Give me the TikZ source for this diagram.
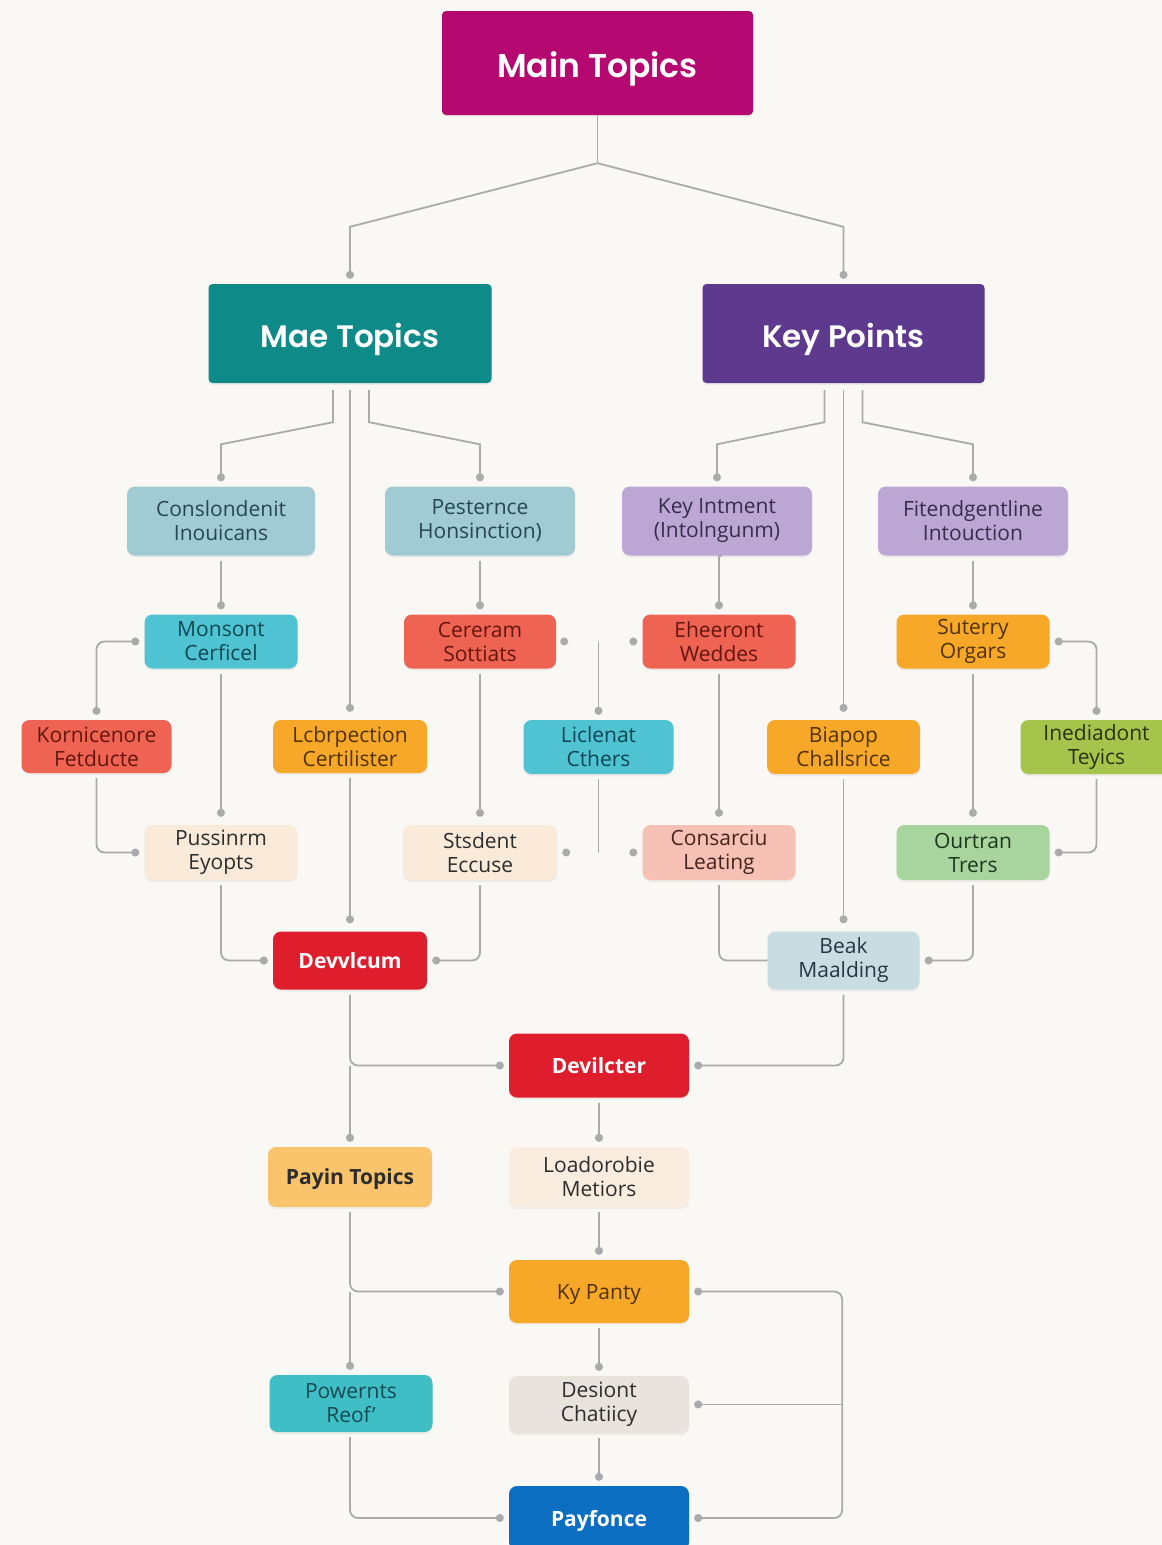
\documentclass[tikz,border=0pt]{standalone}
\usepackage{fontspec}
\setmainfont{Open Sans}
\newfontfamily\headfont{Poppins}[BoldFont={* SemiBold}]
\usetikzlibrary{arrows.meta,calc,shadows}
\definecolor{bgcol}{RGB}{250,248,244}
\definecolor{lineGray}{RGB}{170,170,170}
\definecolor{cMain}{RGB}{181,8,112}
\definecolor{cTeal}{RGB}{14,138,137}
\definecolor{cPurple}{RGB}{93,58,142}
\definecolor{cSteel}{RGB}{160,203,211}
\definecolor{tSteel}{RGB}{40,70,80}
\definecolor{cLav}{RGB}{187,166,212}
\definecolor{tLav}{RGB}{55,45,75}
\definecolor{cCyan}{RGB}{80,195,211}
\definecolor{tCyan}{RGB}{15,70,82}
\definecolor{cCoral}{RGB}{238,99,82}
\definecolor{tCoral}{RGB}{100,22,14}
\definecolor{cAmber}{RGB}{247,168,40}
\definecolor{tAmber}{RGB}{80,50,5}
\definecolor{cOlive}{RGB}{166,196,76}
\definecolor{tOlive}{RGB}{40,52,14}
\definecolor{cPeach}{RGB}{250,234,218}
\definecolor{tDark}{RGB}{45,45,45}
\definecolor{cSalmon}{RGB}{246,193,180}
\definecolor{tSalmon}{RGB}{70,35,30}
\definecolor{cMint}{RGB}{168,212,158}
\definecolor{tMint}{RGB}{28,55,28}
\definecolor{cBeak}{RGB}{200,220,226}
\definecolor{tBeak}{RGB}{38,55,65}
\definecolor{cRed}{RGB}{222,30,45}
\definecolor{cGold}{RGB}{249,196,107}
\definecolor{cCream}{RGB}{250,236,222}
\definecolor{cAqua}{RGB}{64,190,198}
\definecolor{tAqua}{RGB}{22,75,82}
\definecolor{cStone}{RGB}{232,227,220}
\definecolor{cBlue}{RGB}{11,110,192}
\begin{document}
\begin{tikzpicture}[x=1pt,y=-1pt,
  soft/.style={drop shadow={opacity=0.10,shadow xshift=0pt,shadow yshift=-2pt}},
  hdr/.style={soft,rounded corners=4pt,inner sep=0pt,align=center,text=white,
    text height=27pt,text depth=0pt,
    font=\headfont\bfseries\fontsize{31}{36}\selectfont},
  box/.style={soft,rounded corners=8pt,inner sep=0pt,align=center,
    font=\fontsize{21}{24}\selectfont},
  boldbox/.style={soft,rounded corners=8pt,inner sep=0pt,align=center,text depth=0pt,
    font=\bfseries\fontsize{21}{24}\selectfont},
  conn/.style={draw=lineGray,line width=1.8pt},
  dotend/.style={-{Circle[length=8pt,width=8pt]},shorten >=5pt},
  dotboth/.style={{Circle[length=8pt,width=8pt]}-{Circle[length=8pt,width=8pt]},shorten >=5pt,shorten <=5pt},
  gap/.style={shorten <=5pt},
  dotmark/.style={circle,fill=lineGray,inner sep=0pt,minimum size=8pt}
]
\useasboundingbox (0,0) rectangle (1162,1545);
\fill[bgcol] (0,0) rectangle (1162,1545);

% headers
\node[hdr,fill=cMain,minimum width=311pt,minimum height=104pt,
  font=\headfont\bfseries\fontsize{33}{38}\selectfont,text height=28pt] (main) at (597.5,63) {Main Topics};
\node[hdr,fill=cTeal,minimum width=283pt,minimum height=99pt] (mae) at (350,333.5) {Mae Topics};
\node[hdr,fill=cPurple,minimum width=282pt,minimum height=99pt] (key) at (843.5,333.5) {Key Points};

% row 1
\node[box,fill=cSteel,text=tSteel,minimum width=188pt,minimum height=69pt] (cons) at (221,521) {Conslondenit\\Inouicans};
\node[box,fill=cSteel,text=tSteel,minimum width=190pt,minimum height=69pt] (pest) at (480,521) {Pesternce\\Honsinction)};
\node[box,fill=cLav,text=tLav,minimum width=190pt,minimum height=69pt] (keyi) at (717,521) {Key Intment\\(Intolngunm)};
\node[box,fill=cLav,text=tLav,minimum width=190pt,minimum height=69pt] (fit) at (973,521) {Fitendgentline\\Intouction};

% row 2
\node[box,fill=cCyan,text=tCyan,minimum width=153pt,minimum height=54pt] (mons) at (221,641.5) {Monsont\\Cerficel};
\node[box,fill=cCoral,text=tCoral,minimum width=152pt,minimum height=54pt] (cere) at (480,641.5) {Cereram\\Sottiats};
\node[box,fill=cCoral,text=tCoral,minimum width=153pt,minimum height=54pt] (ehee) at (719,641.5) {Eheeront\\Weddes};
\node[box,fill=cAmber,text=tAmber,minimum width=153pt,minimum height=54pt] (sute) at (973,641.5) {Suterry\\Orgars};

% row 3
\node[box,fill=cCoral,text=tCoral,minimum width=150pt,minimum height=53pt] (korn) at (96.5,746.5) {Kornicenore\\Fetducte};
\node[box,fill=cAmber,text=tAmber,minimum width=154pt,minimum height=53pt] (lcbr) at (350,746.5) {Lcbrpection\\Certilister};
\node[box,fill=cCyan,text=tCyan,minimum width=150pt,minimum height=54pt] (licl) at (598.5,747) {Liclenat\\Cthers};
\node[box,fill=cAmber,text=tAmber,minimum width=153pt,minimum height=54pt] (biap) at (843.5,747) {Biapop\\Challsrice};
\node[box,fill=cOlive,text=tOlive,minimum width=152pt,minimum height=54pt] (ined) at (1096.5,747) {Inediadont\\Teyics};

% row 4
\node[box,fill=cPeach,text=tDark,minimum width=153pt,minimum height=55pt] (puss) at (221,852.5) {Pussinrm\\Eyopts};
\node[box,fill=cPeach,text=tDark,minimum width=154pt,minimum height=55pt] (stsd) at (480,852.5) {Stsdent\\Eccuse};
\node[box,fill=cSalmon,text=tSalmon,minimum width=153pt,minimum height=55pt] (consa) at (719,852.5) {Consarciu\\Leating};
\node[box,fill=cMint,text=tMint,minimum width=153pt,minimum height=55pt] (ourt) at (973,852.5) {Ourtran\\Trers};

% row 5
\node[boldbox,fill=cRed,text=white,minimum width=154pt,minimum height=58pt] (devv) at (350,960.5) {Devvlcum};
\node[box,fill=cBeak,text=tBeak,minimum width=152pt,minimum height=58pt] (beak) at (843.5,960.5) {Beak\\Maalding};

% lower column
\node[boldbox,fill=cRed,text=white,minimum width=180pt,minimum height=64pt] (devi) at (599,1065.5) {Devilcter};
\node[boldbox,fill=cGold,text=tDark,minimum width=164pt,minimum height=60pt] (payin) at (350,1177) {Payin Topics};
\node[box,fill=cCream,text=tDark,minimum width=180pt,minimum height=60pt] (load) at (599,1177) {Loadorobie\\Metiors};
\node[box,fill=cAmber,text=tAmber,minimum width=180pt,minimum height=63pt,text depth=0pt] (kyp) at (599,1291.5) {Ky Panty};
\node[box,fill=cAqua,text=tAqua,minimum width=163pt,minimum height=57pt] (powe) at (351,1403.5) {Powernts\\Reof'};
\node[box,fill=cStone,text=tDark,minimum width=180pt,minimum height=57pt] (desi) at (599,1404.5) {Desiont\\Chatiicy};
\node[boldbox,fill=cBlue,text=white,minimum width=180pt,minimum height=64pt] (payf) at (599,1518) {Payfonce};

% top connectors
\draw[conn] (main.south) -- ++(0,48) coordinate (j0);
\draw[conn,dotend] (j0) -- ($(mae.north)+(0,-57)$) -- (mae.north);
\draw[conn,dotend] (j0) -- ($(key.north)+(0,-57)$) -- (key.north);

% Mae Topics branches
\draw[conn,dotend,shorten <=7pt] ([xshift=-17pt]mae.south) -- ++(0,39) -- ($(cons.north)+(0,-42)$) -- (cons.north);
\draw[conn,dotend,shorten <=7pt] ([xshift=19pt]mae.south) -- ++(0,39) -- ($(pest.north)+(0,-42)$) -- (pest.north);
\draw[conn,dotend,shorten <=7pt,shorten >=8pt] (mae.south) -- (lcbr.north);

% Key Points branches
\draw[conn,dotend,shorten <=7pt] ([xshift=-19pt]key.south) -- ++(0,39) -- ($(keyi.north)+(0,-42)$) -- (keyi.north);
\draw[conn,dotend,shorten <=7pt] ([xshift=19pt]key.south) -- ++(0,39) -- ($(fit.north)+(0,-42)$) -- (fit.north);
\draw[conn,dotend,shorten <=7pt,shorten >=8pt] (key.south) -- (biap.north);

% row 1 -> row 2
\draw[conn,dotend,gap] (cons.south) -- (mons.north);
\draw[conn,dotend,gap] (pest.south) -- (cere.north);
\draw[conn,dotend,gap] (keyi.south) -- (keyi.south -| ehee.north) -- (ehee.north);
\draw[conn,dotend,gap] (fit.south) -- (sute.north);

% side branches
\draw[conn,dotboth,rounded corners=8pt] (mons.west) -| (korn.north);
\draw[conn,dotboth,rounded corners=8pt] (sute.east) -| (ined.north);
\draw[conn,dotend,gap,rounded corners=8pt] (korn.south) |- (puss.west);
\draw[conn,dotend,gap,rounded corners=8pt] (ined.south) |- (ourt.east);

% middle column stubs
\coordinate (lt) at (licl.north |- cere.east);
\coordinate (lb) at (licl.south |- stsd.east);
\draw[conn,dotend] (lt) -- (licl.north);
\draw[conn,gap] (licl.south) -- (lb);
\node[dotmark] (d1) at ($(cere.east)+(8,0)$) {};
\node[dotmark] (d2) at ($(ehee.west)+(-9,0)$) {};
\node[dotmark] (d3) at ($(stsd.east)+(9,0)$) {};
\node[dotmark] (d4) at ($(consa.west)+(-9,0)$) {};

% row 2 -> row 4
\draw[conn,dotend,gap,shorten >=8pt] (mons.south) -- (puss.north);
\draw[conn,dotend,gap,shorten >=8pt] (cere.south) -- (stsd.north);
\draw[conn,dotend,gap,shorten >=8pt] (ehee.south) -- (consa.north);
\draw[conn,dotend,gap,shorten >=8pt] (sute.south) -- (ourt.north);

% row 5
\draw[conn,dotend,gap,shorten >=8pt] (lcbr.south) -- (devv.north);
\draw[conn,dotend,gap,rounded corners=8pt] (puss.south) |- (devv.west);
\draw[conn,dotend,gap,rounded corners=8pt] (stsd.south) |- (devv.east);
\draw[conn,dotend,gap,shorten >=8pt] (biap.south) -- (beak.north);
\draw[conn,gap,rounded corners=8pt] (consa.south) |- (beak.west);
\draw[conn,dotend,gap,rounded corners=8pt] (ourt.south) |- (beak.east);

% lower part
\draw[conn,dotend,gap,rounded corners=8pt] (devv.south) |- (devi.west);
\draw[conn,dotend] (devv.south |- devi.west) -- (payin.north);
\draw[conn,dotend,gap,rounded corners=8pt] (beak.south) |- (devi.east);
\draw[conn,dotend,gap] (devi.south) -- (load.north);
\draw[conn,dotend,gap] (load.south) -- (kyp.north);
\draw[conn,dotend,gap,rounded corners=8pt] (payin.south) |- (kyp.west);
\draw[conn,dotend] (payin.south |- kyp.west) -- (payin.south |- powe.north);
\draw[conn,dotend,gap] (kyp.south) -- (desi.north);
\draw[conn,dotend,gap] (desi.south) -- (payf.north);
\draw[conn,dotend,gap,rounded corners=8pt] (powe.south -| payin.south) |- (payf.west);
\coordinate (bus) at ($(kyp.east)+(153,0)$);
\draw[conn,dotboth,rounded corners=8pt] (kyp.east) -- (bus) -- (bus |- payf.east) -- (payf.east);
\draw[conn,dotend] (bus |- desi.east) -- (desi.east);
\end{tikzpicture}
\end{document}
